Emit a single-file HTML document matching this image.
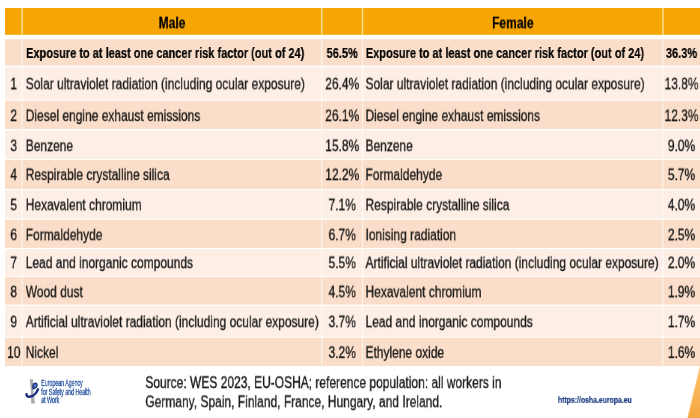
<!DOCTYPE html>
<html><head><meta charset="utf-8"><title>Cancer risk factors</title>
<style>
html,body{margin:0;padding:0;background:#fff;}
body{width:700px;height:418px;overflow:hidden;position:relative;font-family:"Liberation Sans",sans-serif;color:#141414;}
svg{position:absolute;left:0;top:0;}
.t{position:absolute;left:0;top:0;white-space:nowrap;display:block;line-height:20px;height:20px;transform-origin:0 0;will-change:transform;}
.n,.s{font-size:16px;-webkit-text-stroke:.3px #141414;}
.b{font-size:14px;font-weight:bold;color:#000;-webkit-text-stroke:.2px #000;}
.h{font-size:16.5px;font-weight:bold;color:#000;-webkit-text-stroke:.25px #000;}
</style></head><body>

<svg width="700" height="418" viewBox="0 0 700 418">
<rect x="5" y="8" width="695" height="26.8" fill="#f6a503"/>
<rect x="5" y="39.3" width="695" height="26.3" fill="#fadec9"/>
<rect x="5" y="67.0" width="695" height="32.6" fill="#fdefe5"/>
<rect x="5" y="100.7" width="695" height="28.3" fill="#fadec9"/>
<rect x="5" y="130.2" width="695" height="28.9" fill="#fdefe5"/>
<rect x="5" y="160.0" width="695" height="29.0" fill="#fadec9"/>
<rect x="5" y="190.0" width="695" height="28.6" fill="#fdefe5"/>
<rect x="5" y="219.8" width="695" height="28.1" fill="#fadec9"/>
<rect x="5" y="249.0" width="695" height="27.2" fill="#fdefe5"/>
<rect x="5" y="277.0" width="695" height="27.6" fill="#fadec9"/>
<rect x="5" y="306.0" width="695" height="31.3" fill="#fdefe5"/>
<rect x="5" y="338.0" width="695" height="28.1" fill="#fadec9"/>
<rect x="21.45" y="8" width="1.5" height="26.8" fill="#fcdc8c"/>
<rect x="21.60" y="39.3" width="1.2" height="326.8" fill="#fff" opacity=".62"/>
<rect x="320.95" y="8" width="1.5" height="26.8" fill="#fcdc8c"/>
<rect x="321.10" y="39.3" width="1.2" height="326.8" fill="#fff" opacity=".62"/>
<rect x="361.75" y="8" width="1.5" height="26.8" fill="#fcdc8c"/>
<rect x="361.90" y="39.3" width="1.2" height="326.8" fill="#fff" opacity=".62"/>
<rect x="662.15" y="8" width="1.5" height="26.8" fill="#fcdc8c"/>
<rect x="662.30" y="39.3" width="1.2" height="326.8" fill="#fff" opacity=".62"/>
<defs><linearGradient id="wg" x1="0" y1="0" x2="0" y2="1"><stop offset="0" stop-color="#fbc06c"/><stop offset="1" stop-color="#f6a740"/></linearGradient></defs>
<polygon points="700,364.5 700,418 687,418" fill="#fde3b8"/>
<polygon points="700,367 700,418 687.8,418" fill="url(#wg)"/>
</svg>
<span class="t h" style="transform:translate(158.61px,12.70px) scale(0.73,0.97)">Male</span>
<span class="t h" style="transform:translate(492.04px,12.70px) scale(0.73,0.97)">Female</span>
<span class="t b" style="transform:translate(26.10px,43.00px) scale(0.786,1.0)">Exposure to at least one cancer risk factor (out of 24)</span>
<span class="t b" style="transform:translate(326.60px,43.00px) scale(0.786,1.0)">56.5%</span>
<span class="t b" style="transform:translate(365.85px,43.00px) scale(0.786,1.0)">Exposure to at least one cancer risk factor (out of 24)</span>
<span class="t b" style="transform:translate(665.90px,43.00px) scale(0.786,1.0)">36.3%</span>
<span class="t n" style="transform:translate(10.36px,74.86px) scale(0.749,0.96)">1</span>
<span class="t n" style="transform:translate(25.75px,74.86px) scale(0.749,0.96)">Solar ultraviolet radiation (including ocular exposure)</span>
<span class="t n" style="transform:translate(325.21px,74.86px) scale(0.749,0.96)">26.4%</span>
<span class="t n" style="transform:translate(365.50px,74.86px) scale(0.749,0.96)">Solar ultraviolet radiation (including ocular exposure)</span>
<span class="t n" style="transform:translate(664.51px,74.86px) scale(0.749,0.96)">13.8%</span>
<span class="t n" style="transform:translate(10.36px,106.66px) scale(0.749,0.96)">2</span>
<span class="t n" style="transform:translate(25.75px,106.66px) scale(0.749,0.96)">Diesel engine exhaust emissions</span>
<span class="t n" style="transform:translate(325.21px,106.66px) scale(0.749,0.96)">26.1%</span>
<span class="t n" style="transform:translate(365.50px,106.66px) scale(0.749,0.96)">Diesel engine exhaust emissions</span>
<span class="t n" style="transform:translate(664.51px,106.66px) scale(0.749,0.96)">12.3%</span>
<span class="t n" style="transform:translate(10.36px,136.71px) scale(0.749,0.96)">3</span>
<span class="t n" style="transform:translate(25.75px,136.71px) scale(0.749,0.96)">Benzene</span>
<span class="t n" style="transform:translate(325.21px,136.71px) scale(0.749,0.96)">15.8%</span>
<span class="t n" style="transform:translate(365.50px,136.71px) scale(0.749,0.96)">Benzene</span>
<span class="t n" style="transform:translate(667.84px,136.71px) scale(0.749,0.96)">9.0%</span>
<span class="t n" style="transform:translate(10.36px,165.66px) scale(0.749,0.96)">4</span>
<span class="t n" style="transform:translate(25.75px,165.66px) scale(0.749,0.96)">Respirable crystalline silica</span>
<span class="t n" style="transform:translate(325.21px,165.66px) scale(0.749,0.96)">12.2%</span>
<span class="t n" style="transform:translate(365.50px,165.66px) scale(0.749,0.96)">Formaldehyde</span>
<span class="t n" style="transform:translate(667.84px,165.66px) scale(0.749,0.96)">5.7%</span>
<span class="t n" style="transform:translate(10.36px,195.81px) scale(0.749,0.96)">5</span>
<span class="t n" style="transform:translate(25.75px,195.81px) scale(0.749,0.96)">Hexavalent chromium</span>
<span class="t n" style="transform:translate(328.54px,195.81px) scale(0.749,0.96)">7.1%</span>
<span class="t n" style="transform:translate(365.50px,195.81px) scale(0.749,0.96)">Respirable crystalline silica</span>
<span class="t n" style="transform:translate(667.84px,195.81px) scale(0.749,0.96)">4.0%</span>
<span class="t n" style="transform:translate(10.36px,225.81px) scale(0.749,0.96)">6</span>
<span class="t n" style="transform:translate(25.75px,225.81px) scale(0.749,0.96)">Formaldehyde</span>
<span class="t n" style="transform:translate(328.54px,225.81px) scale(0.749,0.96)">6.7%</span>
<span class="t n" style="transform:translate(365.50px,225.81px) scale(0.749,0.96)">Ionising radiation</span>
<span class="t n" style="transform:translate(667.84px,225.81px) scale(0.749,0.96)">2.5%</span>
<span class="t n" style="transform:translate(10.36px,253.71px) scale(0.749,0.96)">7</span>
<span class="t n" style="transform:translate(25.75px,253.71px) scale(0.749,0.96)">Lead and inorganic compounds</span>
<span class="t n" style="transform:translate(328.54px,253.71px) scale(0.749,0.96)">5.5%</span>
<span class="t n" style="transform:translate(365.50px,253.71px) scale(0.749,0.96)">Artificial ultraviolet radiation (including ocular exposure)</span>
<span class="t n" style="transform:translate(667.84px,253.71px) scale(0.749,0.96)">2.0%</span>
<span class="t n" style="transform:translate(10.36px,282.81px) scale(0.749,0.96)">8</span>
<span class="t n" style="transform:translate(25.75px,282.81px) scale(0.749,0.96)">Wood dust</span>
<span class="t n" style="transform:translate(328.54px,282.81px) scale(0.749,0.96)">4.5%</span>
<span class="t n" style="transform:translate(365.50px,282.81px) scale(0.749,0.96)">Hexavalent chromium</span>
<span class="t n" style="transform:translate(667.84px,282.81px) scale(0.749,0.96)">1.9%</span>
<span class="t n" style="transform:translate(10.36px,312.76px) scale(0.749,0.96)">9</span>
<span class="t n" style="transform:translate(25.75px,312.76px) scale(0.749,0.96)">Artificial ultraviolet radiation (including ocular exposure)</span>
<span class="t n" style="transform:translate(328.54px,312.76px) scale(0.749,0.96)">3.7%</span>
<span class="t n" style="transform:translate(365.50px,312.76px) scale(0.749,0.96)">Lead and inorganic compounds</span>
<span class="t n" style="transform:translate(667.84px,312.76px) scale(0.749,0.96)">1.7%</span>
<span class="t n" style="transform:translate(7.04px,343.46px) scale(0.749,0.96)">10</span>
<span class="t n" style="transform:translate(25.75px,343.46px) scale(0.749,0.96)">Nickel</span>
<span class="t n" style="transform:translate(328.54px,343.46px) scale(0.749,0.96)">3.2%</span>
<span class="t n" style="transform:translate(365.50px,343.46px) scale(0.749,0.96)">Ethylene oxide</span>
<span class="t n" style="transform:translate(667.84px,343.46px) scale(0.749,0.96)">1.6%</span>
<span class="t s" style="transform:translate(145.30px,373.33px) scale(0.75,0.98)">Source: WES 2023, EU-OSHA; reference population: all workers in</span>
<span class="t s" style="transform:translate(145.30px,392.48px) scale(0.75,0.98)">Germany, Spain, Finland, France, Hungary, and Ireland.</span>
<span class="t" style="font-size:9.8px;line-height:12px;height:12px;font-weight:bold;color:#17357f;-webkit-text-stroke:.2px #17357f;transform:translate(557.9px,393.9px) scale(.703,1)">https://osha.europa.eu</span>
<svg width="700" height="418" viewBox="0 0 700 418">
<path d="M29.7 379.2 L32.9 379.2 L33.4 391 L35 403.6 L31.1 403.6 L31 391 Z" fill="#a9abae"/>
<path d="M33 385.2 C33.6 382.8 36.8 382.4 37 384.9 C37.2 387 35 388.5 33 388.8 Z" fill="#4a78c0" stroke="#1a2f7a" stroke-width="1.4" stroke-linejoin="round"/>
<path d="M38 389.4 C36.6 393 33 396.4 29.3 396.8 C27.4 397 26.5 395.6 26.5 394.2" fill="none" stroke="#1a2f7a" stroke-width="2.5" stroke-linecap="round"/>
</svg>
<span class="t" style="font-size:8.6px;line-height:8.7px;height:auto;color:#1f4c9e;-webkit-text-stroke:.3px #1f4c9e;transform:translate(41.2px,378.9px) scale(.612,1)">European Agency<br>for Safety and Health<br>at Work</span>
</body></html>
